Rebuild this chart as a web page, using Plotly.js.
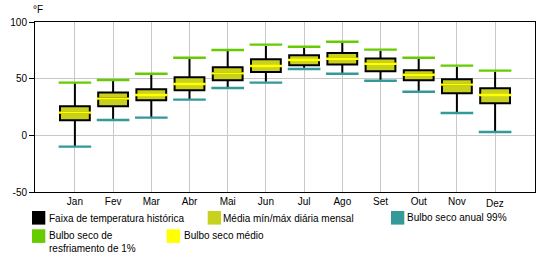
<!DOCTYPE html>
<html>
<head>
<meta charset="utf-8">
<script src="https://cdn.plot.ly/plotly-3.0.1.min.js"></script>
<style>html,body{margin:0;padding:0;background:#fff;}#chart{width:560px;height:260px;}</style>
</head>
<body>
<div id="chart"></div>
<script>
var months = ['Jan','Fev','Mar','Abr','Mai','Jun','Jul','Ago','Set','Out','Nov','Dez'];
var histMax = [46, 48.5, 54, 68, 75, 78.8, 77.4, 81.8, 74.4, 67.6, 60.6, 56.2];
var histMin = [-10, 13.5, 15.6, 31.5, 41.8, 47.3, 59.7, 54.4, 48.2, 38.5, 20.3, 3.8];
var dailyMax = [25.6, 37.9, 40.6, 51.2, 60, 67.1, 70.6, 72.6, 67.9, 57.4, 49.4, 41.5];
var dailyMin = [13.2, 25.6, 30.9, 39.7, 48.5, 55.9, 61.8, 62.6, 56.5, 48.5, 37.1, 28.2];
var meanDB = [20, 32.4, 35.6, 45.3, 54.7, 61.2, 66.5, 67.6, 63.2, 53.5, 44.7, 35.6];
var cooling1 = [46.5, 48.8, 54.4, 68.5, 75.3, 80, 78.2, 82.6, 75.6, 68.5, 61.5, 57.1];
var heating99 = [-10, 13.5, 15.6, 31.5, 41.8, 46.5, 58.5, 54.4, 48.2, 38.5, 19.7, 2.9];
var yTicks = [-50, 0, 50, 100];

var cBlack = '#000000', cOlive = '#c8d21e', cTeal = '#339999', cGreen = '#66cc00', cYellow = '#ffff00';
var font = 'Liberation Sans, Arial, sans-serif';

function segTrace(vals, color) {
  return {
    type: 'scatter', mode: 'markers', x: months, y: vals, hoverinfo: 'skip', showlegend: false,
    marker: {symbol: 'line-ew-open', size: 23.3, color: color, line: {color: color, width: 2.4}}
  };
}

var traces = [
  {
    type: 'box', x: months, q1: dailyMin, median: meanDB, q3: dailyMax,
    lowerfence: histMin, upperfence: histMax, width: 0.78, whiskerwidth: 0,
    fillcolor: cOlive, line: {color: cBlack, width: 2}, hoverinfo: 'skip', showlegend: false
  },
  segTrace(meanDB, cYellow),
  segTrace(cooling1, cGreen),
  segTrace(heating99, cTeal)
];

function px2x(p) { return (p - 35) / 500; }
function px2y(p) { return (192 - p) / 170; }

var legendItems = [
  {label: 'Faixa de temperatura histórica', color: cBlack, sx: 32, tx: 46.5, y0: 211, ty: 218.3},
  {label: 'Média mín/máx diária mensal', color: cOlive, sx: 207.7, tx: 221, y0: 211, ty: 218.3},
  {label: 'Bulbo seco anual 99%', color: cTeal, sx: 391, tx: 405, y0: 211, ty: 217.3},
  {label: 'Bulbo seco de<br>resfriamento de 1%', color: cGreen, sx: 32, tx: 46.5, y0: 229.3, ty: 242.2},
  {label: 'Bulbo seco médio', color: cYellow, sx: 166.7, tx: 182, y0: 229.3, ty: 235}
];

var shapes = [], annotations = [];
legendItems.forEach(function (it) {
  shapes.push({type: 'rect', xref: 'paper', yref: 'paper', x0: px2x(it.sx), x1: px2x(it.sx + 13.3),
    y0: px2y(it.y0 + 13.6), y1: px2y(it.y0), fillcolor: it.color, line: {width: 0}});
  annotations.push({xref: 'paper', yref: 'paper', x: px2x(it.tx), y: px2y(it.ty), xanchor: 'left', yanchor: 'middle',
    text: it.label, showarrow: false, align: 'left', font: {family: font, size: 10, color: '#000'}});
});
annotations.push({xref: 'paper', yref: 'paper', x: px2x(31), y: px2y(9.3), xanchor: 'left', yanchor: 'middle',
  text: '°F', showarrow: false, font: {family: font, size: 10, color: '#000'}});
annotations.push({xref: 'x', yref: 'paper', x: months[11], y: px2y(203.5), xanchor: 'center', yanchor: 'middle',
  text: months[11], showarrow: false, font: {family: font, size: 10, color: '#000'}});

var layout = {
  width: 560, height: 260,
  margin: {l: 35, r: 25, t: 22, b: 68},
  paper_bgcolor: '#fff', plot_bgcolor: '#fff',
  font: {family: font, size: 10, color: '#000'},
  showlegend: false,
  xaxis: {
    type: 'category', tickmode: 'array', tickvals: months,
    ticktext: months.map(function (m, i) { return i === 11 ? '' : m; }),
    showgrid: true, gridcolor: '#c8c8c8', gridwidth: 1,
    showline: true, mirror: true, linecolor: '#000', linewidth: 1,
    ticks: '', zeroline: false, fixedrange: true, tickfont: {family: font, size: 10}
  },
  yaxis: {
    range: [-50, 100], tickmode: 'array', tickvals: yTicks, ticktext: yTicks.map(String),
    showgrid: true, gridcolor: '#c8c8c8', gridwidth: 1, zeroline: false,
    showline: true, mirror: true, linecolor: '#000', linewidth: 1,
    ticks: 'outside', ticklen: 5, tickcolor: '#000', tickwidth: 1, fixedrange: true,
    tickfont: {family: font, size: 10}
  },
  shapes: shapes,
  annotations: annotations
};

Plotly.newPlot('chart', traces, layout, {staticPlot: true, displayModeBar: false});
</script>
</body>
</html>
